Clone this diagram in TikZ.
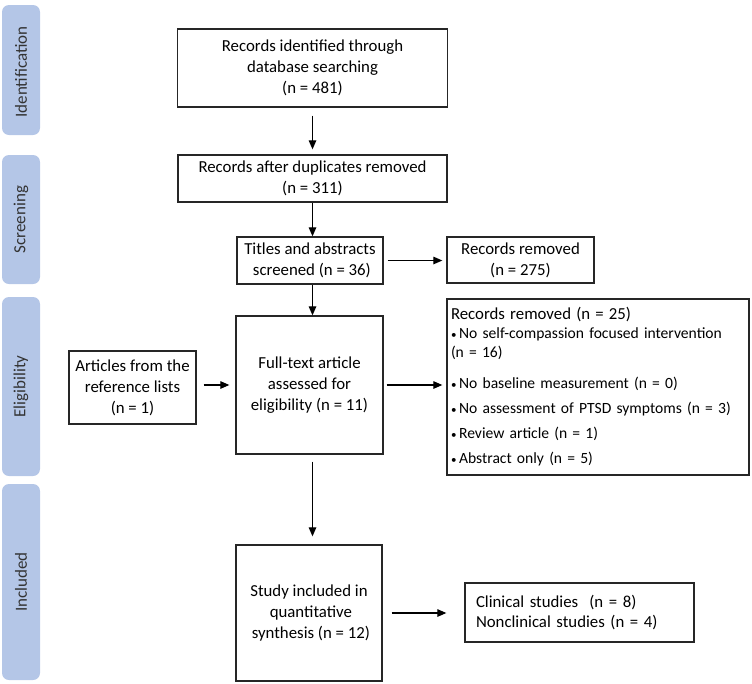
\documentclass[tikz,border=0pt]{standalone}
\usepackage{fontspec}
\setmainfont{Carlito}
\usetikzlibrary{arrows.meta}
\definecolor{bandblue}{HTML}{B4C6E7}
\newcommand{\bul}{{\fontsize{11}{11}\selectfont •}\,}
\begin{document}
\begin{tikzpicture}[x=1pt,y=-1pt,
  box/.style={draw=black!85, line width=1.3pt, align=center, inner sep=2pt,
    font=\fontsize{16.8}{21}\selectfont},
  band/.style={fill=bandblue, rounded corners=7pt},
  bandtext/.style={rotate=90, font=\fontsize{17}{20}\selectfont, text=black!80},
  arr/.style={-{Triangle[length=9pt,width=7.5pt]}, line width=1.2pt}]
\useasboundingbox (0,0) rectangle (752,683);

% side bands
\fill[band] (2,5) rectangle (40,135);
\fill[band] (2,155) rectangle (40,284);
\fill[band] (2,297) rectangle (40,476);
\fill[band] (2,484) rectangle (40,680);
\node[bandtext] (bid) at (21,72) {Identification};
\node[bandtext] (bsc) at (21,219.5) {Screening};
\node[bandtext] (bel) at (21,386.5) {Eligibility};
\node[bandtext] (bin) at (21,582) {Included};

% boxes
\node[box, minimum width=270, minimum height=78] (id) at (312.5,68)
  {Records identified through\\database searching\\(n = 481)};
\node[box, minimum width=269, minimum height=47] (dup) at (312.5,178.5)
  {Records after duplicates removed\\(n = 311)};
\node[box, minimum width=146, minimum height=47] (tit) at (310,260.5)
  {Titles and abstracts\\\ screened (n = 36)};
\node[box, minimum width=147, minimum height=46] (rem1) at (520.5,260)
  {Records removed\\(n = 275)};
\node[box, minimum width=147, minimum height=138] (full) at (309.5,385)
  {Full-text article\\assessed for\\eligibility (n = 11)};
\node[box, minimum width=127, minimum height=73] (art) at (132.5,387.5)
  {Articles from the\\reference lists\\(n = 1)};
\node[box, minimum width=302, minimum height=176, text width=294pt, inner xsep=4pt,
  align=left, font=\fontsize{15.6}{18.5}\selectfont] (rem2) at (598,387)
  {{\fontsize{16.8}{18.5}\selectfont Records removed (n = 25)}\\[0.5pt]
   \bul No self-compassion focused intervention\\
   (n = 16)\\[12.5pt]
   \bul No baseline measurement (n = 0)\\[7pt]
   \bul No assessment of PTSD symptoms (n = 3)\\[6.5pt]
   \bul Review article (n = 1)\\[6.5pt]
   \bul Abstract only (n = 5)};
\node[box, minimum width=146, minimum height=136] (study) at (309,613)
  {Study included in\\\ quantitative\\\ synthesis (n = 12)};
\node[box, minimum width=229, minimum height=59, text width=207pt, inner xsep=11pt,
  align=left, font=\fontsize{16.8}{20}\selectfont] (clin) at (579.5,612.5)
  {Clinical studies\ \ (n = 8)\\Nonclinical studies (n = 4)};

% arrows
\draw[arr, shorten <=8pt, shorten >=5pt] (id.south) -- (dup.north);
\draw[arr] (dup.south) -- (dup.south |- tit.north);
\draw[arr, shorten <=4pt, shorten >=4pt] (tit.east) -- (tit.east -| rem1.west);
\draw[arr] (tit.south -| dup.south) -- (dup.south |- full.north);
\draw[arr, shorten <=7pt, shorten >=6pt] (full.west -| art.east) -- (full.west);
\draw[arr, shorten <=3pt, shorten >=4pt] (full.east) -- (full.east -| rem2.west);
\draw[arr, shorten <=7pt, shorten >=8pt] (full.south -| dup.south) -- (dup.south |- study.north);
\draw[arr, shorten <=9pt, shorten >=18pt] (study.east) -- (study.east -| clin.west);
\end{tikzpicture}
\end{document}
